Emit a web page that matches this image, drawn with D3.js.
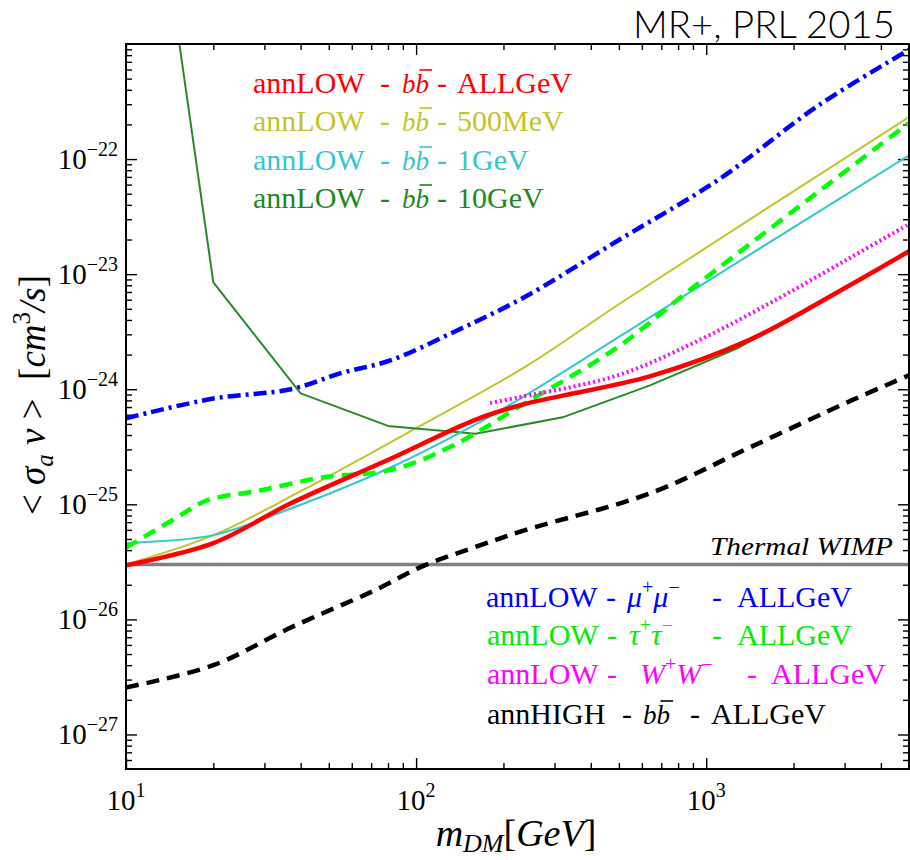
<!DOCTYPE html>
<html>
<head>
<meta charset="utf-8">
<script src="https://cdn.jsdelivr.net/npm/d3@7"></script>
<style>
  body { margin: 0; background: #fff; }
  svg { display: block; }
</style>
</head>
<body>
<div id="chart"></div>
<script>
// ---- data (mass in GeV, <sigma v> in cm^3/s) ----
const massBBAll = [10, 20, 37, 82, 159, 230, 320, 643, 1416, 2885, 5000];
const sigmaBBAll = [2.95e-26, 4.6e-26, 1.02e-25, 2.5e-25, 5.4e-25, 7.3e-25, 8.8e-25, 1.3e-24, 2.7e-24, 7.15e-24, 1.58e-23];

const massBB500MeV = [10, 20, 40, 100, 236, 523, 5000];
const sigmaBB500MeV = [3.0e-26, 5.4e-26, 1.3e-25, 4.6e-25, 1.55e-24, 5.9e-24, 2.32e-22];

const massBB1GeV = [10, 20, 37, 82, 159, 236, 815, 5000];
const sigmaBB1GeV = [4.6e-26, 5.4e-26, 9.2e-26, 2.1e-25, 4.9e-25, 8.7e-25, 6.2e-24, 1.08e-22];

const massBB10GeV = [10, 20, 40, 80, 160, 320, 640, 1280, 2560, 5000];
const sigmaBB10GeV = [1.8e-18, 8.5e-24, 9.2e-25, 4.8e-25, 4.1e-25, 5.7e-25, 1.08e-24, 2.27e-24, 6.0e-24, 1.55e-23];

const massMuMu = [10, 20, 37, 55, 82, 139, 236, 500, 1100, 2450, 5000];
const sigmaMuMu = [5.6e-25, 8.3e-25, 1.0e-24, 1.38e-24, 1.79e-24, 3.26e-24, 6.3e-24, 1.98e-23, 6.6e-23, 2.95e-22, 8.9e-22];

const massTauTau = [10, 15, 19, 29, 48, 74, 93, 139, 236, 495, 880, 5000];
const sigmaTauTau = [4.2e-26, 7.7e-26, 1.08e-25, 1.32e-25, 1.72e-25, 1.9e-25, 2.18e-25, 3.4e-25, 7.5e-25, 2.32e-24, 7.3e-24, 2.06e-22];

const massWW = [180, 225, 495, 946, 1783, 3170, 5000];
const sigmaWW = [7.6e-25, 8.5e-25, 1.32e-24, 2.67e-24, 6.2e-24, 1.41e-23, 2.72e-23];

const massHighBB = [10, 20, 37, 72, 107, 159, 236, 643, 1416, 3170, 5000];
const sigmaHighBB = [2.56e-27, 4.0e-27, 8.5e-27, 1.79e-26, 2.95e-26, 4.23e-26, 5.94e-26, 1.25e-25, 3.13e-25, 8.0e-25, 1.32e-24];

const thermalWimp = 3e-26;

const xTickExps = [1, 2, 3];
const yTickExps = [-27, -26, -25, -24, -23, -22];

// ---- layout ----
const width = 910, height = 860;
const plot = { left: 126, right: 909, top: 44, bottom: 769 };
const serif = "Liberation Serif, Tinos, Times New Roman, DejaVu Serif, serif";

const svg = d3.select("#chart").append("svg")
    .attr("width", width)
    .attr("height", height);

const x = d3.scaleLog().domain([10, 5000]).range([plot.left, plot.right]);
const y = d3.scaleLog().domain([Math.pow(10, -27.3), 1e-21]).range([plot.bottom, plot.top]);

svg.append("clipPath").attr("id", "clip")
  .append("rect")
    .attr("x", plot.left).attr("y", plot.top)
    .attr("width", plot.right - plot.left).attr("height", plot.bottom - plot.top);

// ---- ticks (inward on all four sides) ----
function minorTicks(lo, hi) {
    let out = [];
    for (let e = lo; e <= hi; e++)
        for (let k = 2; k <= 9; k++) out.push(k * Math.pow(10, e));
    return out;
}
const xMajor = xTickExps.map(e => Math.pow(10, e));
const xMinor = minorTicks(1, 3).filter(v => v <= 5000);
const yMajor = yTickExps.map(e => Math.pow(10, e));
const yMinor = minorTicks(-28, -22).filter(v => v >= y.domain()[0] && v <= 1e-21);

function drawAxis(axisFn, scale, values, size, transform) {
    let g = svg.append("g")
        .attr("transform", transform)
        .call(axisFn(scale).tickValues(values).tickSize(size).tickSizeOuter(0).tickFormat(""));
    g.select(".domain").remove();
    g.selectAll("line").attr("stroke", "#000").attr("stroke-width", 1.4);
}
drawAxis(d3.axisBottom, x, xMajor, -11, `translate(0,${plot.bottom})`);
drawAxis(d3.axisBottom, x, xMinor, -6, `translate(0,${plot.bottom})`);
drawAxis(d3.axisTop, x, xMajor, -11, `translate(0,${plot.top})`);
drawAxis(d3.axisTop, x, xMinor, -6, `translate(0,${plot.top})`);
drawAxis(d3.axisLeft, y, yMajor, -11, `translate(${plot.left},0)`);
drawAxis(d3.axisLeft, y, yMinor, -6, `translate(${plot.left},0)`);
drawAxis(d3.axisRight, y, yMajor, -11, `translate(${plot.right},0)`);
drawAxis(d3.axisRight, y, yMinor, -6, `translate(${plot.right},0)`);

// tick labels 10^n
function powerLabel(g, e) {
    g.append("tspan").text("10");
    g.append("tspan").attr("dy", -13).attr("font-size", 20)
        .text(e < 0 ? "\u2212" + (-e) : String(e));
}
xTickExps.forEach(e => {
    let t = svg.append("text")
        .attr("x", x(Math.pow(10, e))).attr("y", 810)
        .attr("text-anchor", "middle")
        .style("font-family", serif).attr("font-size", 29);
    powerLabel(t, e);
});
yTickExps.forEach(e => {
    let t = svg.append("text")
        .attr("x", 118).attr("y", y(Math.pow(10, e)) + 10)
        .attr("text-anchor", "end")
        .style("font-family", serif).attr("font-size", 29);
    powerLabel(t, e);
});

// ---- thermal WIMP line ----
svg.append("line")
    .attr("x1", plot.left).attr("x2", plot.right)
    .attr("y1", y(thermalWimp)).attr("y2", y(thermalWimp))
    .attr("stroke", "#808080").attr("stroke-width", 3.5);

svg.append("text")
    .attr("x", 893).attr("y", 555)
    .attr("text-anchor", "end")
    .style("font-family", serif).attr("font-style", "italic").attr("font-size", 26)
    .attr("textLength", 183).attr("lengthAdjust", "spacingAndGlyphs")
    .text("Thermal WIMP");

// ---- curves ----
const curves = [
    { m: massMuMu, s: sigmaMuMu, color: "#0000ff", w: 4.5, dash: "13,5,3,5", smooth: true },
    { m: massBB500MeV, s: sigmaBB500MeV, color: "#c4c42c", w: 2, dash: null, smooth: true },
    { m: massBB10GeV, s: sigmaBB10GeV, color: "#2a8a2a", w: 2, dash: null, smooth: false },
    { m: massBB1GeV, s: sigmaBB1GeV, color: "#33c8cc", w: 2, dash: null, smooth: true },
    { m: massTauTau, s: sigmaTauTau, color: "#00ff00", w: 4.5, dash: "13,8", smooth: true },
    { m: massWW, s: sigmaWW, color: "#ff00ff", w: 4, dash: "2,3", smooth: true },
    { m: massBBAll, s: sigmaBBAll, color: "#ff0000", w: 4.5, dash: null, smooth: true },
    { m: massHighBB, s: sigmaHighBB, color: "#000000", w: 4.5, dash: "13,8", smooth: true }
];

const curveGroup = svg.append("g").attr("clip-path", "url(#clip)");
curves.forEach(c => {
    let pts = c.m.map((m, i) => [m, c.s[i]]);
    let line = d3.line()
        .x(d => x(d[0]))
        .y(d => y(d[1]))
        .curve(c.smooth ? d3.curveCatmullRom.alpha(0.5) : d3.curveLinear);
    curveGroup.append("path")
        .attr("d", line(pts))
        .attr("fill", "none")
        .attr("stroke", c.color)
        .attr("stroke-width", c.w)
        .attr("stroke-dasharray", c.dash)
        .attr("stroke-linejoin", "round");
});

// ---- frame ----
svg.append("rect")
    .attr("x", plot.left).attr("y", plot.top)
    .attr("width", plot.right - plot.left).attr("height", plot.bottom - plot.top)
    .attr("fill", "none").attr("stroke", "#000").attr("stroke-width", 2);

// ---- legend texts ----
// parts: {t, x (absolute start), it (italic), small, sup, down, bar (char index to overline)}
function legendLine(yPos, color, parts) {
    let t = svg.append("text")
        .attr("y", yPos)
        .style("font-family", serif).attr("font-size", 30)
        .attr("fill", color)
        .style("white-space", "pre");
    let idx = 0, bars = [];
    parts.forEach(p => {
        let sp = t.append("tspan").text(p.t);
        if (p.x !== undefined) sp.attr("x", p.x);
        if (p.it) sp.attr("font-style", "italic");
        if (p.small) sp.attr("font-size", 27);
        if (p.sup) sp.attr("font-size", 20).attr("dy", -13);
        if (p.down) sp.attr("dy", 13);
        if (p.bar !== undefined) bars.push(idx + p.bar);
        idx += p.t.length;
    });
    bars.forEach(i => {
        let a = t.node().getStartPositionOfChar(i);
        let b = t.node().getEndPositionOfChar(i);
        svg.append("line")
            .attr("x1", a.x + 4).attr("x2", b.x + 3)
            .attr("y1", yPos - 23).attr("y2", yPos - 23)
            .attr("stroke", color).attr("stroke-width", 1.6);
    });
}
function upperLine(yPos, color, tail) {
    legendLine(yPos, color, [
        { t: "annLOW", x: 253 }, { t: "-", x: 380 },
        { t: "bb", x: 402, it: true, small: true, bar: 1 }, { t: "-", x: 437 },
        { t: tail, x: 457 }]);
}
upperLine(93, "#ff0000", "ALLGeV");
upperLine(131, "#c4c42c", "500MeV");
upperLine(170, "#33c8cc", "1GeV");
upperLine(208, "#1e8a1e", "10GeV");

function pairLine(yPos, color, sym, xs) {
    legendLine(yPos, color, [
        { t: "annLOW", x: xs[0] }, { t: "-", x: xs[1] },
        { t: sym, x: xs[2], it: true }, { t: "+", sup: true },
        { t: sym, it: true, down: true }, { t: "\u2212", sup: true },
        { t: "-", x: xs[3], down: true }, { t: "ALLGeV", x: xs[4] }]);
}
pairLine(607, "#0000ff", "\u03bc", [486, 606, 627, 712, 737]);
pairLine(645, "#00ee00", "\u03c4", [487, 607, 629, 712, 737]);
pairLine(684, "#ff00ff", "W", [487, 607, 640, 747, 771]);
legendLine(724, "#000000", [
    { t: "annHIGH", x: 487 }, { t: "-", x: 622 },
    { t: "bb", x: 643, it: true, small: true, bar: 1 }, { t: "-", x: 690 },
    { t: "ALLGeV", x: 711 }]);

// ---- axis titles ----
let xt = svg.append("text")
    .attr("x", 516).attr("y", 846)
    .attr("text-anchor", "middle")
    .style("font-family", serif).attr("font-size", 38);
xt.append("tspan").attr("font-style", "italic").text("m");
xt.append("tspan").attr("font-style", "italic").attr("font-size", 26).attr("dy", 6).text("DM");
xt.append("tspan").attr("dy", -6).text("[");
xt.append("tspan").attr("font-style", "italic").text("GeV");
xt.append("tspan").text("]");

let yt = svg.append("text")
    .attr("transform", "translate(45,395) rotate(-90)")
    .attr("text-anchor", "middle")
    .style("font-family", serif).attr("font-size", 37)
    .style("white-space", "pre");
yt.append("tspan").text("< ");
yt.append("tspan").attr("font-style", "italic").text("\u03c3");
yt.append("tspan").attr("font-style", "italic").attr("font-size", 25).attr("dy", 8).text("a");
yt.append("tspan").attr("font-style", "italic").attr("dy", -8).text(" v");
yt.append("tspan").text(" >  [");
yt.append("tspan").attr("font-style", "italic").text("cm");
yt.append("tspan").attr("font-size", 25).attr("dy", -15).text("3");
yt.append("tspan").attr("font-style", "italic").attr("dy", 15).text("/s");
yt.append("tspan").text("]");

// ---- top-right tag ----
svg.append("text")
    .attr("x", 895).attr("y", 38)
    .attr("text-anchor", "end")
    .attr("font-family", "Lato, 'Liberation Sans', sans-serif")
    .attr("font-weight", 300)
    .attr("font-size", 38)
    .attr("textLength", 262).attr("lengthAdjust", "spacingAndGlyphs")
    .text("MR+, PRL 2015");
</script>
</body>
</html>
